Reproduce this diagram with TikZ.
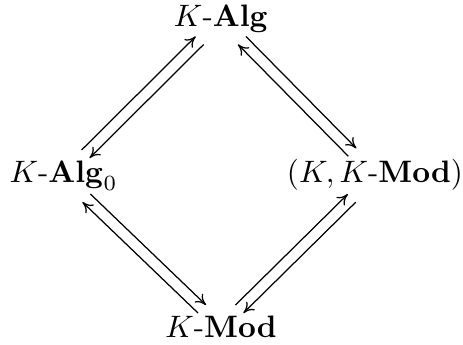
\documentclass[tikz,border=0pt]{standalone}
\usetikzlibrary{arrows.meta}

\begin{document}
\begin{tikzpicture}[x=0.3226pt, y=0.3226pt, every node/.style={anchor=base, inner sep=2.2pt}]
      \tikzstyle{mapto}=[-{To[length=3.4pt, width=3.8pt]}]
      \tikzstyle{upl}=[transform canvas={xshift=-1.29pt, yshift=1.29pt}]
      \tikzstyle{dnr}=[transform canvas={xshift=1.29pt, yshift=-1.29pt}]
      \tikzstyle{dnl}=[transform canvas={xshift=-1.29pt, yshift=-1.29pt}]
      \tikzstyle{upr}=[transform canvas={xshift=1.29pt, yshift=1.29pt}]
      \useasboundingbox (0,0) rectangle (463,345);
      \node (alg) at (221,318) {$K$-$\mathbf{Alg}$};
      \node (alg0) at (63.5,162) {$K$-$\mathbf{Alg}_0$};
      \node (kmod) at (375,162) {$(K, K$-$\mathbf{Mod})$};
      \node (mod) at (221,7) {$K$-$\mathbf{Mod}$};
      % top left
      \draw[mapto, upl] (alg0) -- (alg);
      \draw[mapto, dnr] (alg) -- (alg0);
      % top right
      \draw[mapto, dnl] (kmod) -- (alg);
      \draw[mapto, upr] (alg) -- (kmod);
      % bottom left
      \draw[mapto, dnl] (mod) -- (alg0);
      \draw[mapto, upr] (alg0) -- (mod);
      % bottom right
      \draw[mapto, upl] (mod) -- (kmod);
      \draw[mapto, dnr] (kmod) -- (mod);
\end{tikzpicture}
\end{document}
